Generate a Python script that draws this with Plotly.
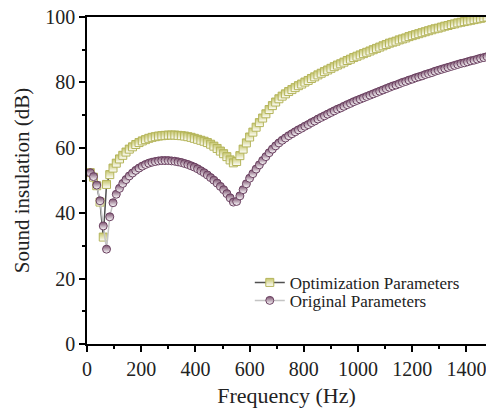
import plotly.graph_objects as go

# Frequency grid (Hz)
freq = [12 * k for k in range(1, 124)]

# Sound insulation with optimized parameters (dB)
optimized = [
    52.4, 51.0, 48.4, 43.4, 32.7, 48.8, 51.8, 53.8, 55.3, 56.6,
    57.7, 58.7, 59.6, 60.3, 61.0, 61.6, 62.1, 62.5, 62.9, 63.2,
    63.4, 63.6, 63.7, 63.8, 63.9, 63.9, 63.9, 63.8, 63.7, 63.6,
    63.4, 63.2, 62.9, 62.6, 62.3, 62.0, 61.6, 61.1, 60.5, 59.8,
    59.0, 58.2, 57.3, 56.3, 55.4, 55.8, 57.6, 59.6, 61.5, 63.3,
    64.8, 66.3, 67.7, 69.1, 70.4, 71.7, 72.9, 74.0, 75.0, 75.8,
    76.5, 77.2, 77.8, 78.4, 79.0, 79.5, 80.1, 80.6, 81.2, 81.7,
    82.3, 82.8, 83.3, 83.8, 84.3, 84.8, 85.3, 85.7, 86.2, 86.7,
    87.1, 87.6, 88.0, 88.4, 88.8, 89.2, 89.6, 90.0, 90.4, 90.8,
    91.2, 91.6, 92.0, 92.3, 92.6, 93.0, 93.3, 93.6, 94.0, 94.3,
    94.6, 94.9, 95.2, 95.5, 95.8, 96.1, 96.4, 96.6, 96.9, 97.2,
    97.4, 97.7, 97.9, 98.2, 98.4, 98.6, 98.8, 99.0, 99.2, 99.4,
    99.6, 99.8, 100.0,
]

# Sound insulation with original parameters (dB)
original = [
    52.4, 51.2, 48.6, 43.8, 36.1, 29.0, 38.9, 43.2, 45.8, 47.6,
    49.1, 50.3, 51.4, 52.3, 53.1, 53.8, 54.4, 54.9, 55.3, 55.6,
    55.8, 56.0, 56.1, 56.1, 56.1, 56.0, 55.9, 55.7, 55.5, 55.2,
    54.9, 54.5, 54.1, 53.6, 53.0, 52.4, 51.7, 50.9, 50.1, 49.2,
    48.2, 47.2, 46.0, 44.7, 43.4, 43.6, 45.3, 47.2, 49.0, 50.7,
    52.1, 53.5, 54.8, 56.1, 57.3, 58.5, 59.6, 60.6, 61.5, 62.3,
    63.0, 63.7, 64.3, 64.9, 65.5, 66.0, 66.6, 67.1, 67.7, 68.2,
    68.8, 69.3, 69.8, 70.3, 70.8, 71.3, 71.8, 72.2, 72.7, 73.2,
    73.6, 74.1, 74.5, 74.9, 75.3, 75.7, 76.1, 76.5, 76.9, 77.3,
    77.7, 78.1, 78.5, 78.9, 79.2, 79.6, 80.0, 80.3, 80.7, 81.0,
    81.4, 81.7, 82.0, 82.4, 82.7, 83.0, 83.4, 83.7, 84.0, 84.3,
    84.6, 84.9, 85.2, 85.5, 85.8, 86.0, 86.3, 86.6, 86.8, 87.1,
    87.4, 87.6, 87.9,
]

x_ticks = [0, 200, 400, 600, 800, 1000, 1200, 1400]
y_ticks = [0, 20, 40, 60, 80, 100]

FONT = "Liberation Serif, Times New Roman, serif"
YELLOW = "#c6c66c"
PURPLE = "#7a4f6d"

fig = go.Figure()

fig.add_trace(go.Scatter(
    x=freq, y=optimized, name="Optimization Parameters",
    mode="lines+markers", legend="legend", showlegend=True,
    line=dict(color="#505050", width=1.5),
    marker=dict(symbol="square", size=8, color=YELLOW,
                line=dict(color="#b4b45a", width=1),
                gradient=dict(type="vertical", color="white")),
))

fig.add_trace(go.Scatter(
    x=freq, y=original, name="Original Parameters",
    mode="lines+markers", legend="legend2", showlegend=True,
    line=dict(color="#c4c4c4", width=1.5),
    marker=dict(symbol="circle", size=8, color=PURPLE,
                line=dict(color="#6a4060", width=1),
                gradient=dict(type="vertical", color="white")),
))

axis_common = dict(
    showline=True, linecolor="black", linewidth=1.5,
    ticks="outside", ticklen=6, tickwidth=1.5, tickcolor="black",
    showgrid=False, zeroline=False,
    tickfont=dict(family=FONT, size=20, color="#222"),
)

fig.update_xaxes(
    **axis_common,
    range=[0, 1472], tickvals=x_ticks, mirror=True,
    ticklabeloverflow="allow",
    minor=dict(ticks="outside", ticklen=3, tickwidth=1.5, tickcolor="black", dtick=100, tick0=0),
    title=dict(text="Frequency (Hz)", font=dict(family=FONT, size=22, color="#222"), standoff=10),
)
fig.update_yaxes(
    **axis_common,
    range=[0, 100], tickvals=y_ticks,
    minor=dict(ticks="outside", ticklen=3, tickwidth=1.5, tickcolor="black", dtick=10, tick0=0),
    title=dict(text="Sound insulation (dB)", font=dict(family=FONT, size=21, color="#222"), standoff=10),
)

legend_style = dict(xanchor="left", yanchor="middle", bgcolor="rgba(0,0,0,0)",
                    font=dict(family=FONT, size=17, color="#222"))

fig.update_layout(
    width=486, height=408,
    margin=dict(l=87, r=0, t=17, b=64),
    paper_bgcolor="white", plot_bgcolor="white",
    font=dict(family=FONT, color="#222"),
    showlegend=True,
    legend=dict(x=0.408, y=0.187, **legend_style),
    legend2=dict(x=0.408, y=0.132, **legend_style),
)

fig.write_html("out.html")
